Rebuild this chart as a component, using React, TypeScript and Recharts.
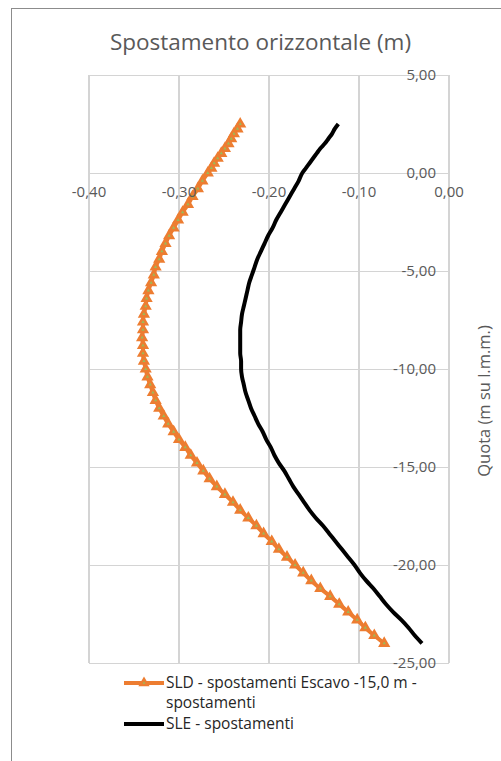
import {
  ScatterChart,
  Scatter,
  XAxis,
  YAxis,
  CartesianGrid,
  ReferenceDot,
  ReferenceLine,
  Symbols,
} from 'recharts'

// quota (m s.l.m.) of each computed node
const quota = [
  2.5, 2.25, 2.0, 1.75, 1.5, 1.25, 1.0, 0.75, 0.5, 0.25, 0.0,
  -0.4, -0.8, -1.2, -1.6, -2.0, -2.4, -2.8, -3.2, -3.6, -4.0,
  -4.4, -4.8, -5.2, -5.6, -6.0, -6.4, -6.8, -7.2, -7.6, -8.0,
  -8.4, -8.8, -9.2, -9.6, -10.0, -10.4, -10.8, -11.2, -11.6, -12.0,
  -12.4, -12.8, -13.2, -13.6, -14.0, -14.4, -14.8, -15.2, -15.6, -16.0,
  -16.4, -16.8, -17.2, -17.6, -18.0, -18.4, -18.8, -19.2, -19.6, -20.0,
  -20.4, -20.8, -21.2, -21.6, -22.0, -22.4, -22.8, -23.2, -23.6, -24.0,
]

// SLD - spostamenti Escavo -15,0 m
const sld = [
  -0.232, -0.235, -0.239, -0.242, -0.245, -0.249, -0.253, -0.257, -0.261, -0.264, -0.268,
  -0.274, -0.279, -0.285, -0.29, -0.296, -0.301, -0.306, -0.311, -0.315, -0.319,
  -0.322, -0.326, -0.328, -0.331, -0.334, -0.336, -0.337, -0.339, -0.34, -0.34,
  -0.341, -0.34, -0.34, -0.339, -0.337, -0.335, -0.332, -0.329, -0.326, -0.322,
  -0.317, -0.312, -0.306, -0.3, -0.293, -0.287, -0.28, -0.273, -0.266, -0.258,
  -0.249, -0.24, -0.232, -0.223, -0.214, -0.206, -0.197, -0.189, -0.18, -0.171,
  -0.162, -0.153, -0.143, -0.132, -0.122, -0.112, -0.102, -0.093, -0.083, -0.072,
]

// SLE - spostamenti
const sle = [
  -0.123, -0.127, -0.13, -0.134, -0.138, -0.143, -0.147, -0.151, -0.155, -0.159, -0.163,
  -0.167, -0.172, -0.177, -0.182, -0.187, -0.192, -0.196, -0.201, -0.205, -0.209,
  -0.213, -0.216, -0.219, -0.222, -0.224, -0.226, -0.228, -0.23, -0.231, -0.232,
  -0.232, -0.232, -0.232, -0.231, -0.231, -0.23, -0.228, -0.226, -0.223, -0.22,
  -0.216, -0.212, -0.207, -0.203, -0.198, -0.194, -0.189, -0.183, -0.178, -0.173,
  -0.167, -0.161, -0.155, -0.148, -0.14, -0.133, -0.126, -0.119, -0.112, -0.105,
  -0.099, -0.092, -0.084, -0.077, -0.07, -0.062, -0.053, -0.045, -0.038, -0.03,
]

const xTicks = [-0.4, -0.3, -0.2, -0.1, 0]
const yTicks = [5, 0, -5, -10, -15, -20, -25]

const title = 'Spostamento orizzontale (m)'
const yTitle = 'Quota (m su l.m.m.)'
const seriesNames = ['SLD - spostamenti Escavo -15,0 m - spostamenti', 'SLE - spostamenti']

const ORANGE = '#ED7D31'
const GREEN = '#9BBB59'
const GRID = '#d4d4d4'
const TEXT = '#595959'
const FONT = '"Open Sans", sans-serif'

const fmt = (v: number) => v.toFixed(2).replace('.', ',')

const sldData = quota.map((q, i) => ({ x: sld[i], y: q }))
const sleData = quota.map((q, i) => ({ x: sle[i], y: q }))

const triangleMarker = (p: any) => (
  <Symbols cx={p.cx} cy={p.cy} type="triangle" size={26} fill={GREEN} stroke={ORANGE} strokeWidth={2.6} />
)
const noMarker = () => <g />

function LegendRow({ color, marker, text, gap }: { color: string; marker: boolean; text: string; gap: number }) {
  return (
    <div style={{ display: 'flex', alignItems: 'flex-start', marginTop: gap }}>
      <svg width={42} height={20} style={{ flex: 'none' }}>
        <line x1={0} y1={10} x2={40} y2={10} stroke={color} strokeWidth={4} />
        {marker && (
          <Symbols cx={20} cy={10} type="triangle" size={22} fill={GREEN} stroke={color} strokeWidth={2.4} />
        )}
      </svg>
      <div style={{ width: 300 }}>{text}</div>
    </div>
  )
}

export default function App() {
  return (
    <div
      style={{
        position: 'absolute',
        left: 0,
        top: 0,
        width: 501,
        height: 761,
        overflow: 'hidden',
        background: '#fff',
        fontFamily: FONT,
      }}
    >
      <div
        style={{
          position: 'absolute',
          left: 11,
          top: 8,
          width: 600,
          height: 800,
          border: '1px solid #8c8c8c',
        }}
      />
      <div
        style={{
          position: 'absolute',
          left: 11,
          top: 26,
          width: 499,
          textAlign: 'center',
          fontSize: 22.5,
          lineHeight: '32px',
          color: TEXT,
        }}
      >
        {title}
      </div>
      <ScatterChart
        width={501}
        height={761}
        margin={{ top: 75, right: 52, bottom: 97, left: 89 }}
        style={{ position: 'absolute', left: 0, top: 0 }}
      >
        <CartesianGrid stroke={GRID} vertical={false} horizontalValues={yTicks} shapeRendering="crispEdges" />
        <XAxis
          type="number"
          dataKey="x"
          domain={[-0.4, 0]}
          ticks={xTicks}
          tick={false}
          axisLine={false}
          tickLine={false}
          height={1}
        />
        <YAxis
          type="number"
          dataKey="y"
          domain={[-25, 5]}
          ticks={yTicks}
          orientation="right"
          mirror
          tickFormatter={fmt}
          tick={{ fill: TEXT, fontSize: 15, fontFamily: FONT }}
          axisLine={{ stroke: GRID }}
          tickLine={false}
          tickSize={6}
          tickMargin={7}
        />
        {xTicks.map((t) => (
          <ReferenceLine
            key={`g${t}`}
            x={t}
            stroke={GRID}
            strokeWidth={1.2}
            ifOverflow="extendDomain"
            shapeRendering="crispEdges"
          />
        ))}
        {xTicks.map((t) => (
          <ReferenceDot
            key={t}
            x={t}
            y={0}
            r={0}
            fill="none"
            stroke="none"
            label={{ value: fmt(t), position: 'bottom', offset: 13, fill: TEXT, fontSize: 15, fontFamily: FONT }}
          />
        ))}
        <Scatter
          name={seriesNames[0]}
          data={sldData}
          fill={GREEN}
          stroke={ORANGE}
          shape={triangleMarker}
          line={{ stroke: ORANGE, strokeWidth: 4 }}
          lineJointType="monotoneY"
          isAnimationActive={false}
        />
        <Scatter
          name={seriesNames[1]}
          data={sleData}
          fill="#000"
          shape={noMarker}
          line={{ stroke: '#000', strokeWidth: 4 }}
          lineJointType="monotoneY"
          isAnimationActive={false}
        />
      </ScatterChart>
      <div
        style={{
          position: 'absolute',
          left: 483,
          top: 401,
          transform: 'translate(-50%, -50%) rotate(-90deg)',
          whiteSpace: 'nowrap',
          fontSize: 16.5,
          color: TEXT,
        }}
      >
        {yTitle}
      </div>
      <div
        style={{
          position: 'absolute',
          left: 124,
          top: 673,
          fontSize: 15.5,
          lineHeight: '19.5px',
          color: '#262626',
        }}
      >
        <LegendRow color={ORANGE} marker text={seriesNames[0]} gap={0} />
        <LegendRow color="#000" marker={false} text={seriesNames[1]} gap={2} />
      </div>
    </div>
  )
}
